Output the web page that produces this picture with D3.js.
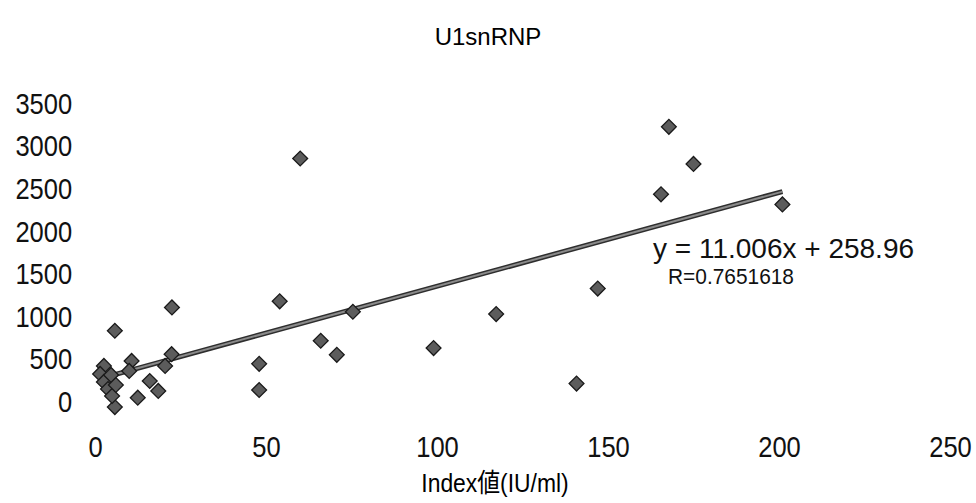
<!DOCTYPE html>
<html>
<head>
<meta charset="utf-8">
<script src="https://cdn.jsdelivr.net/npm/d3@7"></script>
<style>
  body { margin: 0; background: #fff; }
  svg { display: block; }
  .tick text { font-family: "Liberation Sans", sans-serif; fill: #111; }
</style>
</head>
<body>
<svg width="976" height="503"></svg>
<script>
const indexValues = [60, 54, 75.4, 66, 70.7, 48, 48, 99, 117.3, 147, 140.8, 167.8, 175, 165.5, 201,
  22.4, 20.5, 16, 18.5, 12.5, 10.7, 10, 2.6, 5.8, 22.5, 5.8, 1.5, 2.6, 3.8, 5, 4.7, 6.1];
const u1Values = [2860, 1182, 1060, 719, 554, 448, 141, 633, 1033, 1332, 216, 3232, 2796, 2439, 2321,
  562, 424, 247, 130, 51, 483, 365, 424, -60, 1111, 837, 330, 236, 153, 71, 318, 200];

const xTicks = [0, 50, 100, 150, 200, 250];
const yTicks = [0, 500, 1000, 1500, 2000, 2500, 3000, 3500];

const slope = 11.006, intercept = 258.96;
const eqText = 'y = 11.006x + 258.96';
const rText = 'R=0.7651618';

const points = indexValues.map((x, i) => ({x: x, y: u1Values[i]}));

const svg = d3.select('svg');

const x = d3.scaleLinear().domain([0, 250]).range([95, 950]);
const y = d3.scaleLinear().domain([0, 3500]).range([402, 104]);

// the scanned figure uses a narrow font, squeeze the text a bit
const narrow = 'scale(0.88,1)';

svg.append('text')
    .attr('transform', 'translate(488,45)')
    .attr('text-anchor', 'middle')
    .style('font-family', '"Liberation Sans", sans-serif')
    .style('font-size', '24px')
    .text('U1snRNP');

const xAxis = svg.append('g')
    .attr('transform', 'translate(0,401)')
    .call(d3.axisBottom(x).tickValues(xTicks).tickFormat(d3.format('d')).tickSize(0).tickPadding(35));
xAxis.select('.domain').remove();
xAxis.selectAll('text').style('font-size', '29px').attr('transform', narrow);

const yAxis = svg.append('g')
    .attr('transform', 'translate(95,0)')
    .call(d3.axisLeft(y).tickValues(yTicks).tickFormat(d3.format('d')).tickSize(0).tickPadding(26));
yAxis.select('.domain').remove();
yAxis.selectAll('text').style('font-size', '29px').attr('transform', narrow);

svg.append('text')
    .attr('transform', 'translate(495,492) ' + narrow)
    .attr('text-anchor', 'middle')
    .style('font-family', '"Liberation Sans", "Noto Sans CJK JP", sans-serif')
    .style('font-size', '26px')
    .text('Index値(IU/ml)');

// trend line over the data range
const xExt = d3.extent(indexValues);
const trend = xExt.map(v => ({x: v, y: slope * v + intercept}));
const line = d3.line().x(d => x(d.x)).y(d => y(d.y));

svg.append('path')
    .datum(trend)
    .attr('d', line)
    .attr('fill', 'none')
    .attr('stroke', '#2e2e2e')
    .attr('stroke-width', 5);
svg.append('path')
    .datum(trend)
    .attr('d', line)
    .attr('fill', 'none')
    .attr('stroke', '#8a8a8a')
    .attr('stroke-width', 2);

const diamond = d3.symbol().type(d3.symbolSquare).size(110);

svg.append('g')
  .selectAll('path')
  .data(points).enter()
  .append('path')
    .attr('d', diamond)
    .attr('transform', d => `translate(${x(d.x)},${y(d.y)}) rotate(45)`)
    .attr('fill', '#5c5c5c')
    .attr('stroke', '#1a1a1a')
    .attr('stroke-width', 1.3);

svg.append('text')
    .attr('x', 653).attr('y', 258)
    .style('font-family', '"Liberation Sans", sans-serif')
    .style('font-size', '28px')
    .style('fill', '#111')
    .text(eqText);

svg.append('text')
    .attr('transform', 'translate(668,284) scale(0.95,1)')
    .style('font-family', '"Liberation Sans", sans-serif')
    .style('font-size', '22px')
    .style('fill', '#111')
    .text(rText);
</script>
</body>
</html>
